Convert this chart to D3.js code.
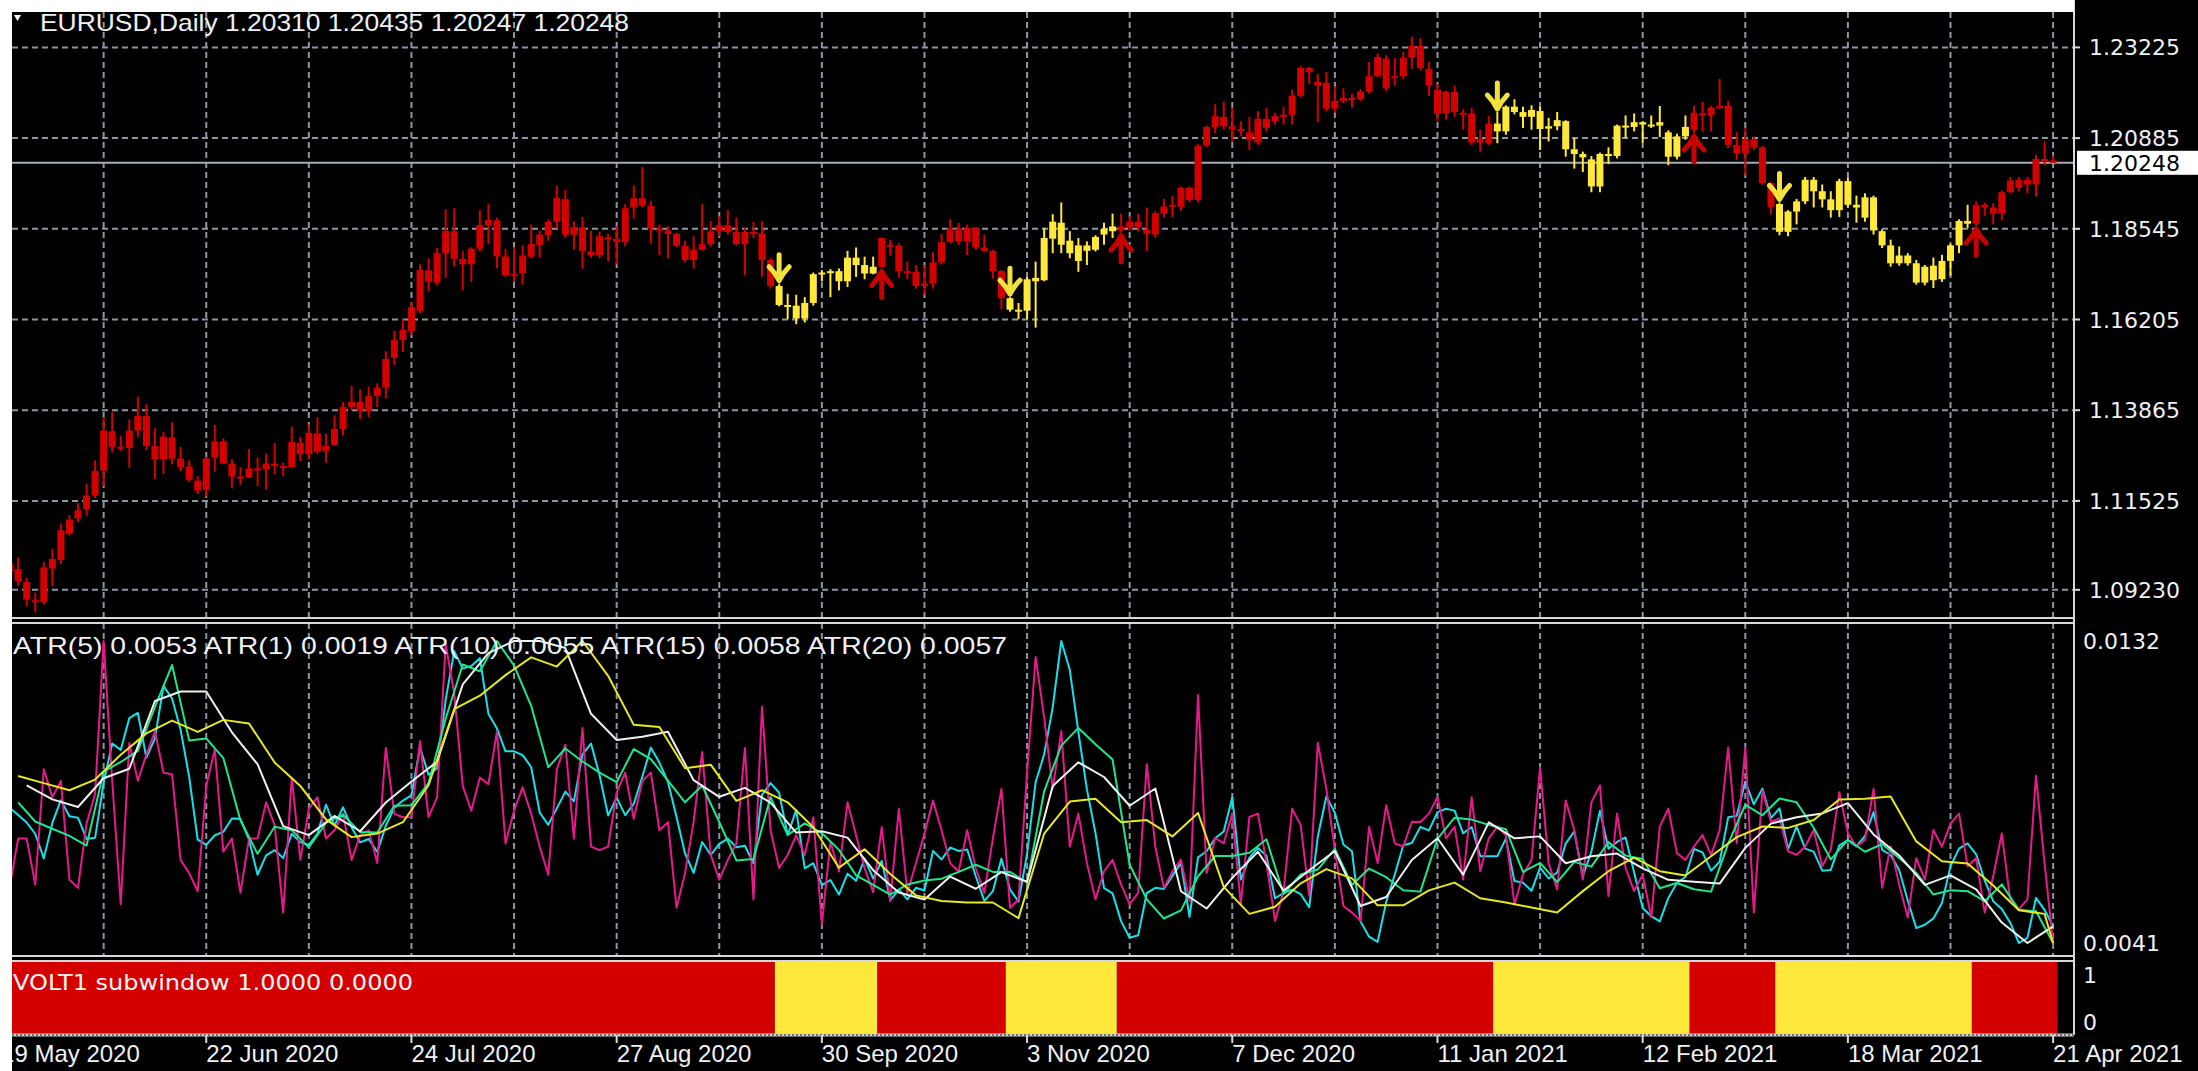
<!DOCTYPE html>
<html>
<head>
<meta charset="utf-8">
<script src="https://cdn.jsdelivr.net/npm/d3@7"></script>
<style>
html, body { margin: 0; padding: 0; background: #000; overflow: hidden; }
</style>
</head>
<body>
<svg id="chart" width="2198" height="1071"></svg>
<script>
// ---- data ----
var barOpen = [1.09895,1.09764,1.09433,1.08962,1.08909,1.09781,1.09999,1.10680,1.11072,1.11299,1.11665,1.12310,1.13322,1.12921,1.12886,1.13340,1.13715,1.12938,1.12598,1.13165,1.12616,1.12415,1.12049,1.11805,1.12642,1.13060,1.12485,1.12153,1.12136,1.12363,1.12345,1.12485,1.12424,1.12398,1.13026,1.12729,1.13270,1.12816,1.12965,1.13383,1.13950,1.14081,1.13845,1.14229,1.14447,1.15215,1.15677,1.15912,1.16427,1.17473,1.17159,1.17918,1.18485,1.17770,1.17630,1.18031,1.18642,1.18764,1.17831,1.17369,1.17395,1.17827,1.18132,1.18377,1.18725,1.19310,1.18394,1.18586,1.17958,1.17871,1.18324,1.18289,1.18202,1.19092,1.19336,1.19135,1.18551,1.18499,1.18412,1.18106,1.17740,1.18002,1.18150,1.18481,1.18638,1.18464,1.18150,1.18464,1.18429,1.17740,1.17069,1.16580,1.16563,1.16231,1.16632,1.17374,1.17417,1.17452,1.17191,1.17801,1.17609,1.17391,1.17566,1.18132,1.18115,1.17452,1.17435,1.17069,1.17130,1.17679,1.18202,1.18551,1.18220,1.18569,1.18063,1.17975,1.17452,1.16755,1.16458,1.16432,1.17279,1.17217,1.18291,1.18702,1.18239,1.17715,1.18117,1.18003,1.18396,1.18483,1.18606,1.18571,1.18728,1.18527,1.18396,1.18937,1.19121,1.19112,1.19601,1.19287,1.20692,1.21173,1.21434,1.21190,1.21103,1.21033,1.20771,1.21382,1.21321,1.21434,1.21487,1.21976,1.22692,1.22343,1.22308,1.21644,1.21845,1.21915,1.21888,1.22089,1.22482,1.22936,1.22430,1.22482,1.22962,1.23268,1.22674,1.22133,1.21522,1.22081,1.21539,1.21522,1.20771,1.20753,1.21260,1.21059,1.21696,1.21557,1.21434,1.21583,1.21130,1.21191,1.21322,1.20597,1.20475,1.20335,1.19637,1.20475,1.20422,1.21208,1.21173,1.21296,1.21234,1.21208,1.21034,1.20405,1.20929,1.21103,1.21523,1.21470,1.21671,1.21715,1.20711,1.20492,1.20859,1.20649,1.19724,1.19183,1.18467,1.18991,1.19253,1.19811,1.19514,1.19305,1.19026,1.19776,1.19165,1.18833,1.19357,1.18484,1.18117,1.17655,1.17856,1.17655,1.17157,1.17594,1.17244,1.17716,1.18117,1.18746,1.18676,1.19165,1.19095,1.18938,1.19488,1.19602,1.19811,1.19689,1.20344,1.20310];
var barHigh = [1.10026,1.10069,1.09546,1.09154,1.09956,1.10287,1.10941,1.11159,1.11465,1.11962,1.12572,1.13688,1.13819,1.13209,1.13627,1.14212,1.14020,1.13401,1.13313,1.13549,1.12921,1.12572,1.12162,1.12659,1.13488,1.13139,1.12598,1.12398,1.12860,1.12642,1.12747,1.13017,1.12511,1.13444,1.13183,1.13497,1.13688,1.13252,1.13732,1.14081,1.14491,1.14404,1.14473,1.14561,1.15389,1.15912,1.16217,1.16654,1.17630,1.17787,1.18049,1.19052,1.19078,1.17979,1.18066,1.19026,1.19183,1.18834,1.18023,1.18066,1.18119,1.18656,1.18499,1.18787,1.19659,1.19545,1.18743,1.18848,1.18499,1.18464,1.18412,1.18612,1.19179,1.19659,1.20138,1.19266,1.18656,1.18612,1.18438,1.18237,1.18351,1.19179,1.18743,1.18874,1.19022,1.18830,1.18569,1.18725,1.18743,1.17784,1.17130,1.16868,1.16842,1.16781,1.17417,1.17478,1.17505,1.17522,1.17975,1.18063,1.17827,1.17827,1.18324,1.18263,1.18176,1.17696,1.17609,1.17609,1.17941,1.18412,1.18787,1.18699,1.18656,1.18586,1.18394,1.18002,1.17478,1.16781,1.16632,1.17304,1.17698,1.18571,1.18920,1.19226,1.18483,1.18309,1.18221,1.18379,1.18702,1.18937,1.18937,1.18876,1.18937,1.19095,1.19007,1.19313,1.19400,1.19636,1.19636,1.20727,1.21207,1.21758,1.21819,1.21670,1.21321,1.21434,1.21583,1.21670,1.21539,1.21696,1.22133,1.22744,1.22718,1.22543,1.22587,1.22220,1.22168,1.22019,1.22150,1.22849,1.23067,1.23024,1.22954,1.23111,1.23504,1.23460,1.22849,1.22281,1.22107,1.22238,1.21627,1.21670,1.21103,1.21452,1.21557,1.21731,1.21888,1.21696,1.21731,1.21696,1.21409,1.21558,1.21348,1.20885,1.20536,1.20422,1.20510,1.20649,1.21234,1.21470,1.21523,1.21322,1.21470,1.21715,1.21086,1.20999,1.21470,1.21715,1.21819,1.21715,1.22413,1.21846,1.21034,1.21147,1.20929,1.20684,1.19750,1.19226,1.19026,1.19314,1.19881,1.19881,1.19689,1.19514,1.19837,1.19864,1.19401,1.19462,1.19401,1.18528,1.18266,1.18091,1.17917,1.17742,1.17611,1.17803,1.17873,1.18152,1.18790,1.19165,1.19253,1.19226,1.19200,1.19532,1.19881,1.19881,1.19881,1.20449,1.20798,1.20435];
var barLow = [1.09546,1.09328,1.08805,1.08656,1.08848,1.09328,1.09895,1.10636,1.10985,1.11142,1.11595,1.11901,1.12773,1.12816,1.12380,1.13165,1.12834,1.12092,1.12223,1.12467,1.12293,1.12014,1.11700,1.11639,1.12276,1.12467,1.11857,1.11944,1.12119,1.11901,1.11813,1.12206,1.12162,1.12380,1.12555,1.12598,1.12729,1.12511,1.12947,1.13209,1.13863,1.13645,1.13688,1.13950,1.14168,1.15040,1.15363,1.15799,1.16374,1.16933,1.17090,1.17281,1.17569,1.16959,1.17177,1.17962,1.18154,1.17526,1.17308,1.17177,1.17107,1.17784,1.17801,1.18237,1.18551,1.18307,1.18002,1.17522,1.17801,1.17784,1.17714,1.17627,1.18089,1.18813,1.19092,1.18176,1.17871,1.17784,1.18063,1.17679,1.17522,1.17980,1.18089,1.18351,1.18394,1.18115,1.17348,1.18307,1.17304,1.16999,1.16545,1.16214,1.16083,1.16127,1.16563,1.17191,1.16781,1.16955,1.17042,1.17304,1.17243,1.17370,1.17522,1.17853,1.17278,1.17243,1.16999,1.16842,1.16999,1.17627,1.18176,1.18132,1.17871,1.18002,1.17941,1.17260,1.16475,1.16406,1.16214,1.16214,1.15995,1.17191,1.17916,1.17916,1.17785,1.17436,1.17610,1.17960,1.18134,1.18309,1.18440,1.18483,1.18483,1.17960,1.18309,1.18833,1.18833,1.19007,1.19226,1.19226,1.20649,1.21015,1.21103,1.20797,1.20928,1.20579,1.20710,1.21059,1.21234,1.21234,1.21234,1.21932,1.22281,1.21295,1.21583,1.21539,1.21784,1.21670,1.21845,1.22046,1.22456,1.22107,1.22238,1.22412,1.22674,1.22631,1.21976,1.21321,1.21365,1.21434,1.21103,1.20710,1.20535,1.20710,1.20753,1.20972,1.21496,1.21146,1.21103,1.20579,1.20798,1.21086,1.20405,1.20099,1.20012,1.19488,1.19488,1.20213,1.20361,1.20885,1.21060,1.20772,1.21147,1.20911,1.20187,1.20335,1.20842,1.21016,1.21060,1.21060,1.21627,1.20623,1.20318,1.19925,1.20580,1.19689,1.18921,1.18379,1.18353,1.18659,1.19183,1.19095,1.19095,1.18833,1.18851,1.19095,1.18702,1.18729,1.18397,1.18048,1.17567,1.17594,1.17594,1.17105,1.17087,1.17017,1.17175,1.17332,1.17917,1.18571,1.18615,1.18877,1.18659,1.18764,1.19470,1.19514,1.19462,1.19375,1.20187,1.20247];
var barClose = [1.09677,1.09459,1.08979,1.08927,1.09808,1.10026,1.10767,1.11046,1.11281,1.11665,1.12293,1.13340,1.12921,1.12904,1.13340,1.13715,1.12938,1.12590,1.13183,1.12616,1.12398,1.12066,1.11787,1.12624,1.13060,1.12485,1.12153,1.12119,1.12363,1.12345,1.12485,1.12424,1.12380,1.13043,1.12729,1.13279,1.12799,1.12947,1.13383,1.13950,1.14081,1.13845,1.14229,1.14447,1.15188,1.15677,1.15938,1.16523,1.17482,1.17177,1.17918,1.18485,1.17770,1.17630,1.18031,1.18642,1.18773,1.17831,1.17351,1.17386,1.17857,1.18150,1.18394,1.18725,1.19336,1.18394,1.18586,1.17975,1.17871,1.18351,1.18289,1.18202,1.19074,1.19336,1.19135,1.18551,1.18499,1.18412,1.18106,1.17740,1.18002,1.18150,1.18481,1.18638,1.18464,1.18150,1.18464,1.18429,1.17740,1.17069,1.16580,1.16563,1.16231,1.16632,1.17374,1.17417,1.17452,1.17191,1.17801,1.17609,1.17391,1.17566,1.18307,1.18098,1.17452,1.17435,1.17069,1.17130,1.17679,1.18202,1.18551,1.18220,1.18569,1.18063,1.17975,1.17452,1.16755,1.16458,1.16432,1.17243,1.17191,1.18309,1.18728,1.18134,1.17916,1.18117,1.17977,1.18335,1.18545,1.18606,1.18501,1.18728,1.18588,1.18414,1.18946,1.19121,1.19164,1.19601,1.19287,1.20692,1.21173,1.21452,1.21190,1.21103,1.21120,1.20841,1.21382,1.21146,1.21452,1.21487,1.21976,1.22700,1.22587,1.22238,1.21644,1.21845,1.21915,1.21888,1.22089,1.22482,1.22980,1.22168,1.22482,1.22962,1.23268,1.22692,1.22238,1.21522,1.22081,1.21557,1.21504,1.20771,1.20858,1.21260,1.21059,1.21696,1.21557,1.21434,1.21609,1.21120,1.21191,1.21348,1.20597,1.20475,1.20388,1.19637,1.20475,1.20422,1.21208,1.21173,1.21296,1.21234,1.21208,1.21296,1.20405,1.20929,1.21173,1.21540,1.21470,1.21671,1.21715,1.20711,1.20492,1.20859,1.20649,1.19724,1.19113,1.18467,1.18991,1.19253,1.19811,1.19514,1.19305,1.19026,1.19776,1.19165,1.19095,1.19357,1.18502,1.18117,1.17655,1.17856,1.17655,1.17157,1.17567,1.17218,1.17716,1.18117,1.18746,1.18676,1.19165,1.19095,1.18938,1.19488,1.19794,1.19811,1.19689,1.20344,1.20310,1.20248];

// VOLT1 regime: first bar of each run and its state (1 = yellow, 0 = red)
var voltStart = [0, 90, 102, 117, 130, 174, 197, 207, 230];
var voltState = [0, 1, 0, 1, 0, 1, 0, 1, 0];

// ATR lines. ATR(1) and ATR(5) every bar, the slower ones at a few bars each
var atr1 = [0.00480,0.00741,0.00741,0.00498,0.01108,0.00959,0.01046,0.00523,0.00480,0.00820,0.00977,0.01787,0.01046,0.00393,0.01247,0.01047,0.01186,0.01309,0.01090,0.01082,0.00628,0.00558,0.00462,0.01020,0.01212,0.00672,0.00741,0.00454,0.00741,0.00741,0.00934,0.00811,0.00349,0.01064,0.00628,0.00899,0.00959,0.00741,0.00785,0.00872,0.00628,0.00759,0.00785,0.00611,0.01221,0.00872,0.00854,0.00855,0.01256,0.00854,0.00959,0.01771,0.01509,0.01020,0.00889,0.01064,0.01029,0.01308,0.00715,0.00889,0.01012,0.00872,0.00698,0.00550,0.01108,0.01238,0.00741,0.01326,0.00698,0.00680,0.00698,0.00985,0.01090,0.00846,0.01046,0.01090,0.00785,0.00828,0.00375,0.00558,0.00829,0.01199,0.00654,0.00523,0.00628,0.00715,0.01221,0.00418,0.01439,0.00785,0.00585,0.00654,0.00759,0.00654,0.00854,0.00287,0.00724,0.00567,0.00933,0.00759,0.00584,0.00457,0.00802,0.00410,0.00898,0.00453,0.00610,0.00767,0.00942,0.00785,0.00611,0.00567,0.00785,0.00584,0.00453,0.00742,0.01003,0.00375,0.00418,0.01090,0.01703,0.01380,0.01004,0.01310,0.00698,0.00873,0.00611,0.00419,0.00568,0.00628,0.00497,0.00393,0.00454,0.01135,0.00698,0.00480,0.00567,0.00629,0.00410,0.01501,0.00558,0.00743,0.00716,0.00873,0.00393,0.00855,0.00873,0.00611,0.00305,0.00462,0.00899,0.00812,0.00437,0.01248,0.01004,0.00681,0.00384,0.00349,0.00305,0.00803,0.00611,0.00917,0.00716,0.00699,0.00830,0.00829,0.00873,0.00960,0.00742,0.00804,0.00524,0.00960,0.00568,0.00742,0.00804,0.00759,0.00392,0.00550,0.00628,0.01117,0.00611,0.00472,0.00943,0.00786,0.00524,0.00934,0.01022,0.00436,0.00873,0.00585,0.00463,0.00550,0.00323,0.00804,0.00899,0.00664,0.00628,0.00699,0.00759,0.00655,0.00786,0.01223,0.00716,0.01222,0.00349,0.00995,0.00829,0.00847,0.00673,0.00655,0.00698,0.00786,0.00594,0.00681,0.00986,0.00769,0.00699,0.00733,0.01004,0.00480,0.00699,0.00497,0.00323,0.00637,0.00524,0.00786,0.00698,0.00820,0.00873,0.00594,0.00638,0.00349,0.00541,0.00768,0.00411,0.00367,0.00419,0.01074,0.00611,0.00188];
var atr5 = [0.00850,0.00830,0.00810,0.00780,0.00714,0.00809,0.00870,0.00827,0.00823,0.00766,0.00769,0.00917,0.01022,0.01005,0.01090,0.01104,0.00984,0.01036,0.01176,0.01143,0.01059,0.00933,0.00764,0.00750,0.00776,0.00785,0.00821,0.00820,0.00764,0.00670,0.00722,0.00736,0.00715,0.00780,0.00757,0.00750,0.00780,0.00858,0.00802,0.00851,0.00797,0.00757,0.00766,0.00731,0.00801,0.00850,0.00869,0.00883,0.01012,0.00938,0.00956,0.01139,0.01270,0.01223,0.01230,0.01251,0.01102,0.01062,0.01001,0.01001,0.00991,0.00959,0.00837,0.00804,0.00848,0.00893,0.00867,0.00993,0.01022,0.00937,0.00829,0.00877,0.00830,0.00860,0.00933,0.01011,0.00971,0.00919,0.00825,0.00727,0.00675,0.00758,0.00723,0.00753,0.00767,0.00744,0.00748,0.00701,0.00884,0.00916,0.00890,0.00776,0.00844,0.00687,0.00701,0.00642,0.00656,0.00617,0.00673,0.00654,0.00713,0.00660,0.00707,0.00602,0.00630,0.00604,0.00635,0.00628,0.00734,0.00711,0.00743,0.00734,0.00738,0.00666,0.00600,0.00626,0.00713,0.00631,0.00598,0.00726,0.00918,0.00993,0.01119,0.01297,0.01219,0.01053,0.00899,0.00782,0.00634,0.00620,0.00545,0.00501,0.00508,0.00621,0.00635,0.00632,0.00667,0.00702,0.00557,0.00717,0.00733,0.00768,0.00786,0.00878,0.00657,0.00716,0.00742,0.00721,0.00607,0.00621,0.00630,0.00618,0.00583,0.00772,0.00880,0.00836,0.00751,0.00733,0.00545,0.00504,0.00490,0.00597,0.00670,0.00749,0.00755,0.00798,0.00789,0.00838,0.00847,0.00842,0.00781,0.00798,0.00720,0.00720,0.00720,0.00767,0.00653,0.00649,0.00627,0.00689,0.00660,0.00676,0.00754,0.00786,0.00667,0.00732,0.00842,0.00740,0.00758,0.00770,0.00676,0.00581,0.00559,0.00545,0.00608,0.00648,0.00664,0.00739,0.00730,0.00681,0.00705,0.00824,0.00828,0.00920,0.00859,0.00901,0.00822,0.00848,0.00739,0.00800,0.00740,0.00732,0.00681,0.00683,0.00749,0.00763,0.00746,0.00774,0.00838,0.00737,0.00723,0.00683,0.00601,0.00527,0.00536,0.00553,0.00594,0.00693,0.00740,0.00754,0.00725,0.00655,0.00599,0.00578,0.00541,0.00487,0.00501,0.00608,0.00576,0.00532];
var atr10Bars = d3.range(1, 240, 2);
var atr10 = [0.00830,0.00790,0.00775,0.00760,0.00740,0.00894,0.00914,0.00937,0.01029,0.01116,0.00959,0.00963,0.00922,0.00792,0.00723,0.00779,0.00772,0.00736,0.00787,0.00804,0.00768,0.00767,0.00823,0.00824,0.00870,0.01004,0.01117,0.01103,0.01166,0.01115,0.01031,0.00903,0.00942,0.00915,0.00892,0.00872,0.00941,0.00920,0.00875,0.00830,0.00865,0.00789,0.00709,0.00712,0.00841,0.00762,0.00786,0.00766,0.00731,0.00678,0.00658,0.00638,0.00659,0.00667,0.00671,0.00685,0.00700,0.00685,0.00685,0.00663,0.00853,0.00948,0.00985,0.00951,0.00919,0.00700,0.00628,0.00588,0.00605,0.00676,0.00718,0.00718,0.00725,0.00753,0.00639,0.00680,0.00690,0.00733,0.00658,0.00692,0.00674,0.00647,0.00644,0.00754,0.00798,0.00794,0.00783,0.00774,0.00685,0.00704,0.00664,0.00706,0.00696,0.00747,0.00719,0.00712,0.00651,0.00662,0.00649,0.00644,0.00744,0.00825,0.00803,0.00838,0.00830,0.00777,0.00711,0.00752,0.00727,0.00743,0.00714,0.00683,0.00638,0.00647,0.00645,0.00624,0.00659,0.00606,0.00603,0.00537];
var atr15Bars = d3.range(2, 240, 3);
var atr15 = [0.00830,0.00808,0.00796,0.00841,0.00856,0.00962,0.00977,0.00977,0.00913,0.00863,0.00766,0.00752,0.00782,0.00758,0.00803,0.00836,0.00867,0.00988,0.01037,0.01056,0.01056,0.01045,0.00942,0.00901,0.00906,0.00914,0.00838,0.00812,0.00826,0.00803,0.00756,0.00758,0.00748,0.00697,0.00662,0.00651,0.00687,0.00668,0.00694,0.00679,0.00829,0.00866,0.00843,0.00798,0.00825,0.00664,0.00637,0.00685,0.00726,0.00665,0.00697,0.00727,0.00641,0.00655,0.00713,0.00747,0.00690,0.00772,0.00747,0.00750,0.00708,0.00719,0.00723,0.00700,0.00682,0.00679,0.00676,0.00732,0.00770,0.00780,0.00786,0.00802,0.00753,0.00720,0.00674,0.00689,0.00667,0.00615,0.00583,0.00609];
var atr20Bars = d3.range(1, 240, 3).concat([239]);
var atr20 = [0.00850,0.00840,0.00830,0.00845,0.00880,0.00910,0.00928,0.00912,0.00929,0.00924,0.00869,0.00836,0.00789,0.00764,0.00769,0.00785,0.00837,0.00944,0.00963,0.00992,0.01017,0.01004,0.01040,0.00991,0.00922,0.00919,0.00861,0.00866,0.00815,0.00830,0.00813,0.00778,0.00721,0.00747,0.00712,0.00682,0.00674,0.00672,0.00672,0.00650,0.00769,0.00814,0.00818,0.00785,0.00788,0.00765,0.00798,0.00694,0.00656,0.00666,0.00699,0.00719,0.00706,0.00668,0.00668,0.00689,0.00700,0.00678,0.00672,0.00665,0.00658,0.00688,0.00716,0.00735,0.00716,0.00710,0.00737,0.00764,0.00779,0.00777,0.00788,0.00817,0.00818,0.00821,0.00758,0.00730,0.00727,0.00696,0.00661,0.00656,0.00615];
var atrTickLabels = ["0.0132", "0.0041"];

var priceTicks = [1.23225, 1.20885, 1.18545, 1.16205, 1.13865, 1.11525, 1.09230];
var dateBars = [-1, 23, 47, 71, 95, 119, 143, 167, 191, 215, 239];
var dateLabels = ["19 May 2020", "22 Jun 2020", "24 Jul 2020", "27 Aug 2020", "30 Sep 2020", "3 Nov 2020", "7 Dec 2020", "11 Jan 2021", "12 Feb 2021", "18 Mar 2021", "21 Apr 2021"];
var lastPrice = 1.20248;

// ---- layout ----
var plotL = 12, plotR = 2074;
var mainTop = 12, mainBot = 618;
var atrTop = 623, atrBot = 956;
var voltTop = 961, voltBot = 1035;

var RED = "#d40000", YEL = "#ffe83c";
var GRID = "#8c96a6";
var FONT = "'Liberation Sans', Arial, sans-serif";

var x = d3.scaleLinear().domain([0, 239]).range([9.6, 2053.1]);
var y = d3.scaleLinear().domain([1.18545, 1.11525]).range([228.8, 500.9]);
var atrRange = [943, 641];
var yVolt = d3.scaleLinear().domain([0, 1]).range([1034, 962]);
var step = x(1) - x(0);

var svg = d3.select("#chart");
svg.append("rect").attr("width", 2198).attr("height", 1071).attr("fill", "#000");

var defs = svg.append("defs");
function clip(id, y0, y1) {
  defs.append("clipPath").attr("id", id).append("rect")
    .attr("x", plotL).attr("y", y0).attr("width", plotR - plotL).attr("height", y1 - y0);
}
clip("cMain", mainTop, mainBot);
clip("cAtr", atrTop, atrBot);
clip("cVolt", voltTop, voltBot);

// per bar regime
var state = barClose.map(function(d, i) {
  var s = 0;
  voltStart.forEach(function(b, k) { if (i >= b) s = voltState[k]; });
  return s;
});

// ---- grid ----
var gridBars = d3.range(11, 240, 12);
var gMain = svg.append("g").attr("clip-path", "url(#cMain)");
gMain.selectAll("line.v").data(gridBars).enter().append("line")
  .attr("x1", function(d) { return x(d); }).attr("x2", function(d) { return x(d); })
  .attr("y1", mainTop).attr("y2", mainBot)
  .attr("stroke", GRID).attr("stroke-width", 2).attr("stroke-dasharray", "6,4");
gMain.selectAll("line.h").data(priceTicks).enter().append("line")
  .attr("x1", plotL).attr("x2", plotR)
  .attr("y1", function(d) { return y(d); }).attr("y2", function(d) { return y(d); })
  .attr("stroke", GRID).attr("stroke-width", 2).attr("stroke-dasharray", "6,4");

// current price line
gMain.append("line").attr("x1", plotL).attr("x2", plotR)
  .attr("y1", y(lastPrice)).attr("y2", y(lastPrice))
  .attr("stroke", "#a3acb9").attr("stroke-width", 2);

// ---- candles ----
var candles = gMain.selectAll("g.c").data(barClose).enter().append("g");
candles.append("line")
  .attr("x1", function(d, i) { return x(i); }).attr("x2", function(d, i) { return x(i); })
  .attr("y1", function(d, i) { return y(barHigh[i]); })
  .attr("y2", function(d, i) { return y(barLow[i]); })
  .attr("stroke", function(d, i) { return state[i] ? YEL : RED; })
  .attr("stroke-width", 2);
candles.append("rect")
  .attr("x", function(d, i) { return x(i) - 3.5; })
  .attr("width", 7)
  .attr("y", function(d, i) { return y(Math.max(barOpen[i], barClose[i])); })
  .attr("height", function(d, i) { return Math.max(2, Math.abs(y(barOpen[i]) - y(barClose[i]))); })
  .attr("fill", function(d, i) { return state[i] ? YEL : RED; });

// regime arrows
voltStart.forEach(function(b, k) {
  if (b === 0) return;
  var cx = x(b);
  var up = voltState[k] === 0;
  var t = up ? y(barLow[b]) + 2 : y(barHigh[b]) - 2;
  var s = up ? 1 : -1;
  gMain.append("path")
    .attr("d", "M" + cx + "," + (t + s * 27) + "L" + cx + "," + (t + s * 3) +
      "M" + (cx - 10) + "," + (t + s * 15) + "Q" + (cx - 4) + "," + (t + s * 9) + " " + cx + "," + (t + s * 1) +
      "Q" + (cx + 4) + "," + (t + s * 9) + " " + (cx + 10) + "," + (t + s * 15))
    .attr("fill", "none").attr("stroke", up ? "#c80000" : "#f2e23c")
    .attr("stroke-width", 5).attr("stroke-linecap", "round").attr("stroke-linejoin", "round");
});

// ---- ATR window ----
var gAtr = svg.append("g").attr("clip-path", "url(#cAtr)");
gAtr.selectAll("line.v").data(gridBars).enter().append("line")
  .attr("x1", function(d) { return x(d); }).attr("x2", function(d) { return x(d); })
  .attr("y1", atrTop).attr("y2", atrBot)
  .attr("stroke", GRID).attr("stroke-width", 2).attr("stroke-dasharray", "6,4");

// every ATR is auto-scaled on its own min..max, as the terminal does
var atrSeries = [
  { v: atr5, bars: d3.range(0, 240), color: "#18e0e8" },
  { v: atr1, bars: d3.range(0, 240), color: "#e8198c" },
  { v: atr10, bars: atr10Bars, color: "#1ee68c" },
  { v: atr15, bars: atr15Bars, color: "#f0f0f0" },
  { v: atr20, bars: atr20Bars, color: "#e8e81e" }
];
atrSeries.forEach(function(s) {
  var sy = d3.scaleLinear().domain(d3.extent(s.v)).range(atrRange);
  var line = d3.line()
    .x(function(d, i) { return x(s.bars[i]); })
    .y(function(d) { return sy(d); });
  gAtr.append("path").datum(s.v).attr("d", line)
    .attr("fill", "none").attr("stroke", s.color).attr("stroke-width", 2)
    .attr("stroke-linejoin", "round");
});

// ---- VOLT window ----
var runs = voltStart.map(function(b, k) {
  return { a: b, b: k < voltStart.length - 1 ? voltStart[k + 1] - 1 : 239, s: voltState[k] };
});
var gVolt = svg.append("g").attr("clip-path", "url(#cVolt)");
gVolt.selectAll("rect").data(runs).enter().append("rect")
  .attr("x", function(d) { return x(d.a) - step / 2; })
  .attr("width", function(d) { return x(d.b) - x(d.a) + step; })
  .attr("y", yVolt(1) - 1).attr("height", yVolt(0) - yVolt(1) + 2)
  .attr("fill", function(d) { return d.s ? YEL : RED; });

// ---- frames ----
var frame = svg.append("g").attr("stroke", "#d8d8d8").attr("stroke-width", 2).attr("fill", "none");
[mainBot, atrTop, atrBot, voltTop].forEach(function(v) {
  frame.append("line").attr("x1", plotL).attr("x2", plotR).attr("y1", v).attr("y2", v);
});
frame.append("line").attr("x1", plotR).attr("x2", plotR).attr("y1", 0).attr("y2", voltBot);
svg.append("line").attr("x1", plotL).attr("x2", plotR).attr("y1", voltBot).attr("y2", voltBot)
  .attr("stroke", "#cfcfcf").attr("stroke-width", 3);
svg.append("line").attr("x1", plotL).attr("x2", plotR).attr("y1", voltBot).attr("y2", voltBot)
  .attr("stroke", "#555").attr("stroke-width", 1.5).attr("stroke-dasharray", "2,2");

// ---- right axis labels ----
var axisG = svg.append("g").attr("font-family", "'DejaVu Sans', Verdana, sans-serif")
  .attr("font-size", 22).attr("fill", "#eef0f4");
priceTicks.forEach(function(p) {
  axisG.append("line").attr("x1", plotR).attr("x2", plotR + 6).attr("y1", y(p)).attr("y2", y(p))
    .attr("stroke", "#d8d8d8").attr("stroke-width", 2);
  axisG.append("text").attr("x", 2089).attr("y", y(p) + 8).text(p.toFixed(5));
});
axisG.append("rect").attr("x", 2077).attr("y", y(lastPrice) - 12).attr("width", 121).attr("height", 24).attr("fill", "#fff");
axisG.append("text").attr("x", 2089).attr("y", y(lastPrice) + 8).attr("fill", "#000").text(lastPrice.toFixed(5));

atrTickLabels.forEach(function(t, i) {
  axisG.append("text").attr("x", 2083).attr("y", atrRange[1 - i] + 8).text(t);
});
axisG.append("text").attr("x", 2083).attr("y", 983).text("1");
axisG.append("text").attr("x", 2083).attr("y", 1030).text("0");

// ---- date axis ----
var dateG = svg.append("g");
dateG.selectAll("line").data(dateBars).enter().append("line")
  .attr("x1", function(d) { return x(d); }).attr("x2", function(d) { return x(d); })
  .attr("y1", voltBot).attr("y2", voltBot + 8)
  .attr("stroke", "#d8d8d8").attr("stroke-width", 2);
dateG.selectAll("text").data(dateLabels).enter().append("text")
  .attr("x", function(d, i) { return x(dateBars[i]); })
  .attr("y", 1062)
  .attr("font-family", FONT).attr("font-size", 24).attr("fill", "#eef0f4")
  .text(function(d) { return d; });

// ---- window titles ----
svg.append("text").attr("x", 40).attr("y", 31).attr("font-family", FONT).attr("font-size", 24)
  .attr("fill", "#eef0f4").attr("textLength", 589).attr("lengthAdjust", "spacingAndGlyphs")
  .text("EURUSD,Daily  1.20310 1.20435 1.20247 1.20248");
svg.append("text").attr("x", 13).attr("y", 654).attr("font-family", FONT).attr("font-size", 24)
  .attr("fill", "#eef0f4").attr("textLength", 994).attr("lengthAdjust", "spacingAndGlyphs")
  .text("ATR(5) 0.0053 ATR(1) 0.0019 ATR(10) 0.0055 ATR(15) 0.0058 ATR(20) 0.0057");
svg.append("text").attr("x", 13).attr("y", 990).attr("font-family", "'DejaVu Sans', Verdana, sans-serif").attr("font-size", 22)
  .attr("fill", "#f4f4f4").attr("textLength", 400).attr("lengthAdjust", "spacingAndGlyphs")
  .text("VOLT1 subwindow 1.0000 0.0000");

// white margins of the screenshot
svg.append("rect").attr("x", 0).attr("y", 0).attr("width", 12).attr("height", 1071).attr("fill", "#fff");
svg.append("rect").attr("x", 0).attr("y", 0).attr("width", plotR).attr("height", 12).attr("fill", "#fff");
svg.append("path").attr("d", "M14,15L21,15L17.5,21Z").attr("fill", "#fff");
</script>
</body>
</html>
